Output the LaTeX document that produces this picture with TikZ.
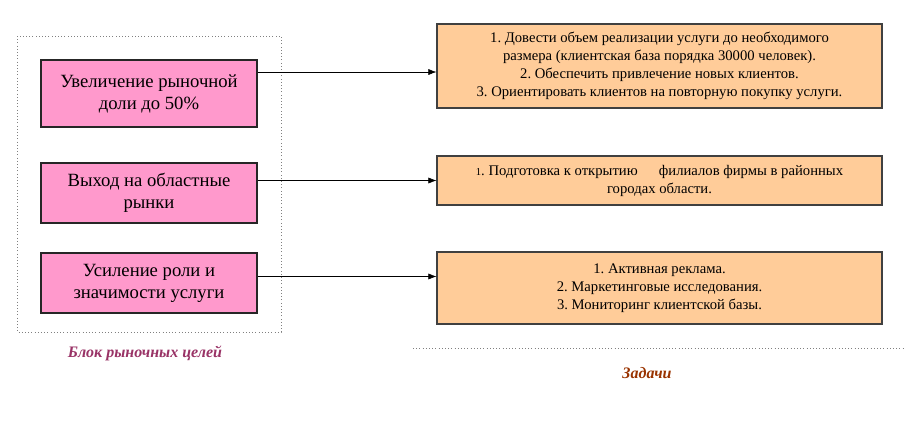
\documentclass[tikz,border=0pt]{standalone}
\usepackage{fontspec}
\setmainfont{Liberation Serif}
\newfontfamily\timesfont{Liberation Serif}
\usepackage{xcolor}
\usetikzlibrary{arrows.meta, positioning, calc, shadows}
\definecolor{goalpink}{RGB}{255, 153, 204}
\definecolor{taskorange}{RGB}{255, 204, 153}
\definecolor{goaltext}{RGB}{153, 51, 102}
\definecolor{tasktext}{RGB}{153, 51, 0}
\tikzstyle{goal} = [rectangle, minimum width=162pt, inner sep=0pt, align=center, draw=black!85, thick, fill=goalpink, font=\timesfont\fontsize{14}{16.5}\selectfont, drop shadow={shadow xshift=0.7pt, shadow yshift=-0.7pt, fill=gray!55, opacity=1}]
\tikzstyle{task} = [rectangle, minimum width=333.75pt, inner sep=0pt, align=center, draw=black!75, thick, fill=taskorange, font=\timesfont\fontsize{11}{13.5}\selectfont, drop shadow={shadow xshift=0.7pt, shadow yshift=-0.7pt, fill=gray!55, opacity=1}]
\tikzstyle{arrow} = [thin, -{Latex[length=6pt, width=4.5pt]}]
\tikzstyle{frame} = [draw=gray, dotted, thin]
\tikzstyle{caption} = [font=\timesfont\fontsize{12}{14}\selectfont\bfseries\itshape]

\begin{document}
\frenchspacing
\begin{tikzpicture}[x=0.75pt, y=-0.75pt]
    \useasboundingbox (0,0) rectangle (905,426);

    % Market goals block
    \draw[frame] (17,36) rectangle (281,332);
    \node[goal, minimum height=50.25pt] (goal1) at (149,93.5) {Увеличение рыночной\\доли до 50\%};
    \node[goal, minimum height=45pt] (goal2) at (149,193) {Выход на областные\\рынки};
    \node[goal, minimum height=45pt] (goal3) at (149,283) {Усиление роли и\\значимости услуги};
    \node[caption, text=goaltext] (goalcap) at (145,353) {Блок рыночных целей};

    % Tasks
    \node[task, minimum height=63pt] (task1) at (659.5,66) {1. Довести объем реализации услуги до необходимого\\размера (клиентская база порядка 30000 человек).\\2. Обеспечить привлечение новых клиентов.\\3. Ориентировать клиентов на повторную покупку услуги.};
    \node[task, minimum height=36.75pt] (task2) at (659.5,180.5) {{\fontsize{8}{10}\selectfont 1}. Подготовка к открытию\hspace{1.2em} филиалов фирмы в районных\\городах области.};
    \node[task, minimum height=54pt] (task3) at (659.5,288) {1. Активная реклама.\\2. Маркетинговые исследования.\\3. Мониторинг клиентской базы.};
    \coordinate (lineL) at (413,348);
    \coordinate (lineR) at (905,348);
    \draw[frame] (lineL) -- (lineR);
    \node[caption, text=tasktext] (taskcap) at (647,373) {Задачи};

    % Arrows
    \draw[arrow] ([yshift=-9.4pt]goal1.north east) -- ([yshift=-9.4pt]goal1.north east -| task1.west);
    \draw[arrow] (goal2.east |- task2.west) -- (task2.west);
    \draw[arrow] ([yshift=-18pt]goal3.north east) -- ([yshift=-18pt]goal3.north east -| task3.west);
\end{tikzpicture}
\end{document}
